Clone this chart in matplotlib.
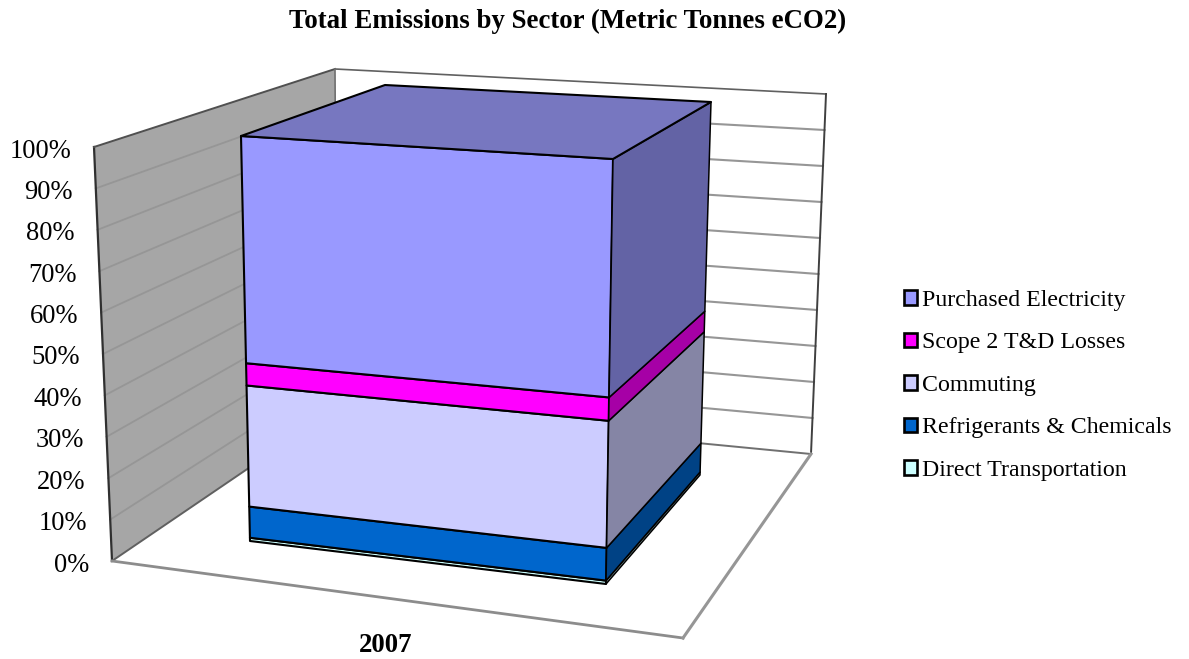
import matplotlib
matplotlib.use("Agg")
import matplotlib.pyplot as plt
from matplotlib.patches import Polygon, Patch
import numpy as np

# stack order is bottom to top
sectors = ["Direct Transportation", "Refrigerants & Chemicals", "Commuting",
           "Scope 2 T&D Losses", "Purchased Electricity"]
shares = [0.8, 7.7, 29.9, 5.5, 56.1]
front_colors = ["#CCFFFF", "#0066CC", "#CCCCFF", "#FF00FF", "#9999FF"]
side_colors = ["#85A5A5", "#004285", "#8585A5", "#A600A6", "#6363A5"]
top_color = "#7777C0"
pct_ticks = [0, 10, 20, 30, 40, 50, 60, 70, 80, 90, 100]
category = "2007"

# chart frame, pixel positions of the projected 3d box: (bottom, top) of each vertical edge
wall_front = ((112, 561), (94, 147))
wall_back = ((337, 408), (335, 69))
wall_right = ((811, 454), (826, 94))
floor_front = (683, 638)
# bar edges
bar_fl = ((250, 541), (241, 136))
bar_fr = ((606, 584), (613, 159))
bar_br = ((700, 475), (711, 102))
bar_bl = ((392, 440), (385, 85))


def at(edge, pct):
    # point on a vertical edge for a percent value
    b, t = np.array(edge[0], float), np.array(edge[1], float)
    return b + (t - b) * pct / 100.0


plt.rcParams['font.family'] = ['Liberation Serif', 'DejaVu Serif']
fig = plt.figure(figsize=(11.89, 6.59), dpi=100)
ax = fig.add_axes([0, 0, 1, 1])
ax.set_xlim(0, 1189)
ax.set_ylim(659, 0)
ax.axis('off')

# walls
ax.add_patch(Polygon([wall_front[0], wall_front[1], wall_back[1], wall_back[0]],
                     facecolor="#A6A6A6", edgecolor="none", zorder=1))
for p in pct_ticks[1:-1]:
    a, b, c = at(wall_front, p), at(wall_back, p), at(wall_right, p)
    ax.plot([a[0], b[0]], [a[1], b[1]], color="#969696", lw=1.3, zorder=2)
    ax.plot([b[0], c[0]], [b[1], c[1]], color="#969696", lw=1.5, zorder=2)

ax.plot(*zip(wall_front[0], wall_front[1]), color="#303030", lw=1.6, zorder=3)
ax.plot(*zip(wall_front[1], wall_back[1]), color="#505050", lw=1.4, zorder=3)
ax.plot(*zip(wall_back[1], wall_right[1]), color="#606060", lw=1.2, zorder=3)
ax.plot(*zip(wall_back[1], wall_back[0]), color="#707070", lw=1.2, zorder=3)
ax.plot(*zip(wall_right[1], wall_right[0]), color="#404040", lw=1.4, zorder=3)
ax.plot(*zip(wall_back[0], wall_right[0]), color="#707070", lw=1.4, zorder=3)
ax.plot(*zip(wall_front[0], wall_back[0]), color="#606060", lw=1.4, zorder=3)

# floor
ax.plot(*zip(wall_front[0], floor_front), color="#8C8C8C", lw=2, zorder=3)
ax.plot(*zip(floor_front, wall_right[0]), color="#969696", lw=2.2, zorder=3)

# stacked bar
bottoms = np.cumsum([0] + shares[:-1])
tops = np.cumsum(shares)
for low, high, fc, sc in zip(bottoms, tops, front_colors, side_colors):
    ax.add_patch(Polygon([at(bar_fl, low), at(bar_fr, low), at(bar_fr, high), at(bar_fl, high)],
                         facecolor=fc, edgecolor="black", lw=1.5, joinstyle='round', zorder=4))
    ax.add_patch(Polygon([at(bar_fr, low), at(bar_br, low), at(bar_br, high), at(bar_fr, high)],
                         facecolor=sc, edgecolor="black", lw=1.1, joinstyle='round', zorder=4))
ax.add_patch(Polygon([at(bar_fl, tops[-1]), at(bar_fr, tops[-1]), at(bar_br, tops[-1]), at(bar_bl, tops[-1])],
                     facecolor=top_color, edgecolor="black", lw=1.5, joinstyle='round', zorder=5))

# tick labels follow the front edge of the left wall
for p in pct_ticks:
    pos = at(wall_front, p)
    ax.text(pos[0] - 23, pos[1] + 4, "%d%%" % p, ha='right', va='center', fontsize=19.1, color="black")

ax.text(386, 645, category, ha='center', va='center', fontsize=19.3, fontweight='bold')
ax.text(568, 21, "Total Emissions by Sector (Metric Tonnes eCO2)", ha='center', va='center',
        fontsize=19.4, fontweight='bold')

handles = [Patch(facecolor=c, edgecolor="black", lw=1.9) for c in front_colors[::-1]]
ax.legend(handles, sectors[::-1], loc='upper left', bbox_to_anchor=(904 / 1189, 1 - 290 / 659),
          frameon=False, fontsize=17.2, handlelength=0.55, handleheight=0.55,
          handletextpad=0.2, labelspacing=0.9, borderpad=0, borderaxespad=0)

fig.savefig("out.png", dpi=100)
